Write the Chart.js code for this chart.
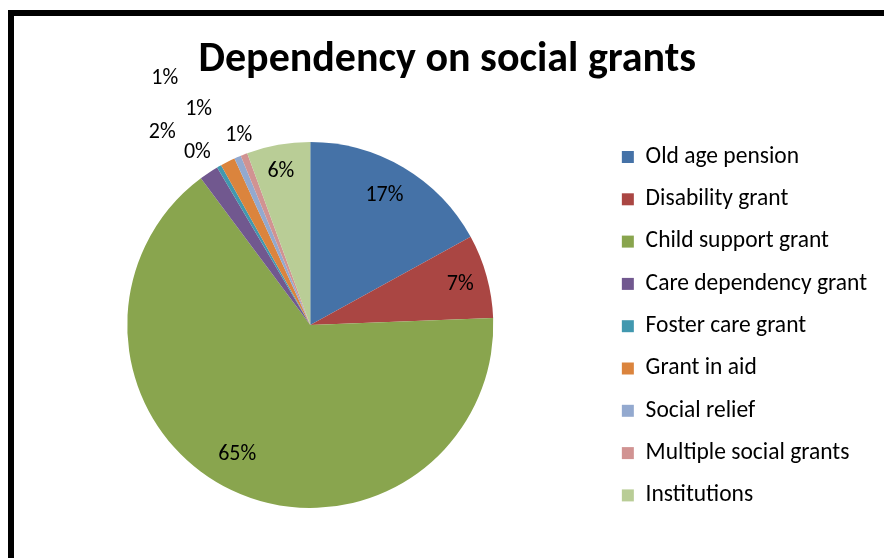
<!DOCTYPE html>
<html>
<head>
<meta charset="utf-8">
<script src="https://cdn.jsdelivr.net/npm/chart.js@4/dist/chart.umd.min.js"></script>
<style>
  html, body { margin: 0; padding: 0; background: #fff; overflow: hidden; }
  #frame {
    position: absolute; left: 8px; top: 10px; width: 900px; height: 600px;
    border: 6px solid #000; box-sizing: border-box;
  }
  #wrap { position: absolute; left: 0; top: 0; width: 884px; height: 558px; }
</style>
</head>
<body>
<div id="frame"></div>
<div id="wrap"><canvas id="pie"></canvas></div>
<script>
// data
var grantTypes = [
  'Old age pension', 'Disability grant', 'Child support grant',
  'Care dependency grant', 'Foster care grant', 'Grant in aid',
  'Social relief', 'Multiple social grants', 'Institutions'
];
var grantShare = [17.0, 7.4, 65.4, 1.7, 0.4, 1.3, 0.6, 0.6, 5.6];

// Excel 2007 palette
var sliceColours = [
  '#4572A7', '#AA4643', '#89A54E', '#71588F', '#4198AF',
  '#DB843D', '#93A9CF', '#D19392', '#B9CD96'
];

// where each percent label sits: fraction of radius, and angle nudge (deg)
var labelRadius = [0.82, 0.85, 0.81, 1.33, 1.13, 1.57, 1.33, 1.11, 0.86];
var labelNudge  = [-1, 0, 4, -3.8, -3.2, -3.6, -3.9, 0.6, -0.7];

var FONT = 'Carlito, Lato, sans-serif';

var percentLabels = {
  id: 'percentLabels',
  afterDatasetsDraw: function(chart) {
    var ctx = chart.ctx;
    var meta = chart.getDatasetMeta(0);
    var values = chart.data.datasets[0].data;
    var total = values.reduce(function(a, b) { return a + b }, 0);

    ctx.save();
    ctx.font = '22px ' + FONT;
    ctx.fillStyle = '#000';
    ctx.textAlign = 'center';
    ctx.textBaseline = 'middle';
    meta.data.forEach(function(arc, i) {
      var p = arc.getProps(['x', 'y', 'startAngle', 'endAngle', 'outerRadius'], true);
      var mid = (p.startAngle + p.endAngle) / 2 + labelNudge[i] * Math.PI / 180;
      var r = p.outerRadius * labelRadius[i];
      var txt = Math.round(values[i] / total * 100) + '%';
      ctx.fillText(txt, p.x + Math.cos(mid) * r, p.y + Math.sin(mid) * r + 1);
    });
    ctx.restore();
  }
};

new Chart(document.getElementById('pie'), {
  type: 'pie',
  data: {
    labels: grantTypes,
    datasets: [{
      data: grantShare,
      backgroundColor: sliceColours,
      borderWidth: 0
    }]
  },
  options: {
    responsive: true,
    maintainAspectRatio: false,
    animation: false,
    radius: 183,
    layout: { padding: { left: 17.5, right: 7, top: 0, bottom: 8 } },
    plugins: {
      tooltip: { enabled: false },
      title: {
        display: true,
        text: 'Dependency on social grants',
        color: '#000',
        font: { family: FONT, size: 42, weight: 'bold' },
        padding: { top: 34.8, bottom: 14.8 }
      },
      legend: {
        position: 'right',
        align: 'start',
        // blank legend title, only a spacer above the items
        title: {
          display: true,
          text: ' ',
          font: { family: FONT, size: 10 },
          padding: { top: 114.45, bottom: 0 }
        },
        labels: {
          color: '#000',
          font: { family: FONT, size: 23.5 },
          boxWidth: 12,
          boxHeight: 12,
          padding: 18.8
        }
      }
    }
  },
  plugins: [percentLabels]
});
</script>
</body>
</html>
